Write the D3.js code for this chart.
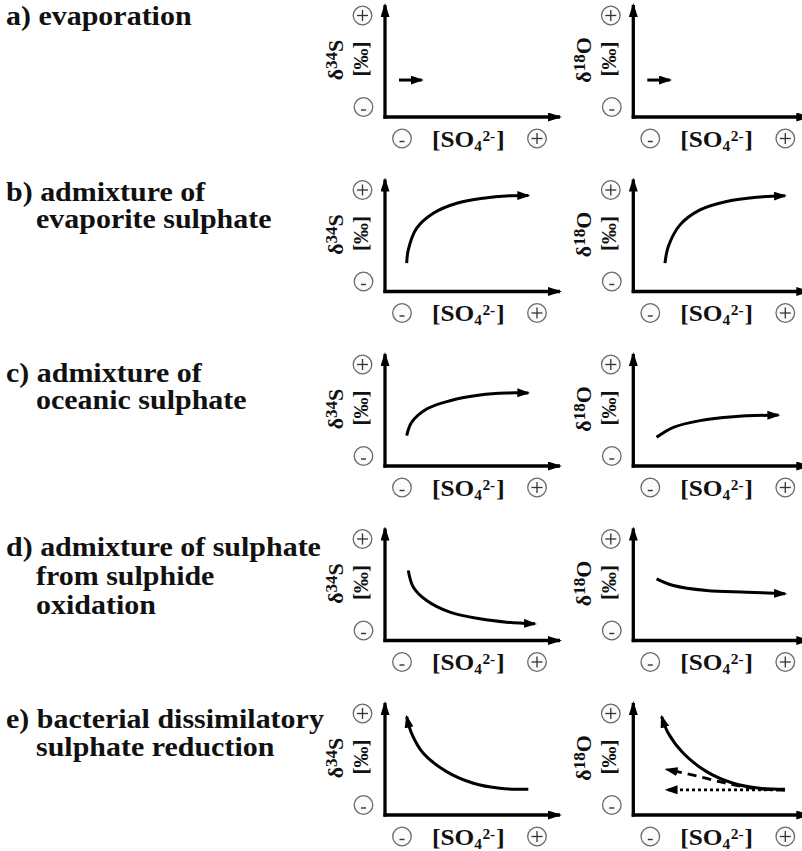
<!DOCTYPE html>
<html><head><meta charset="utf-8">
<script src="https://cdn.jsdelivr.net/npm/d3@7"></script>
<style>body{margin:0;background:#fff} svg{display:block}</style>
</head><body>
<svg id="chart" width="802" height="851"></svg>
<script>
// ---------- data ----------
const rowIds = ["a", "b", "c", "d", "e"];
const rowLabels = [
  ["a) evaporation"],
  ["b) admixture of", "evaporite sulphate"],
  ["c) admixture of", "oceanic sulphate"],
  ["d) admixture of sulphate", "from sulphide", "oxidation"],
  ["e) bacterial dissimilatory", "sulphate reduction"]
];
const isotopeBase = ["δ", "δ"];
const isotopeMass = ["34", "18"];
const isotopeElement = ["S", "O"];
const unitLabel = "[‰]";
const xLabelParts = ["[SO", "4", "2-", "]"];
const signLabels = ["+", "-"];

// normalized [SO4 2-] (0..1) vs. delta (0..1); the last point carries the arrow
const evapS = [[0.08, 0.33], [0.21, 0.33]];
const evapO = [[0.08, 0.33], [0.21, 0.33]];
const evaporiteS = [[0.124, 0.253], [0.133, 0.372], [0.181, 0.565], [0.276, 0.699], [0.41, 0.788], [0.562, 0.833], [0.714, 0.854], [0.819, 0.857]];
const evaporiteO = [[0.181, 0.253], [0.2, 0.402], [0.267, 0.595], [0.381, 0.729], [0.533, 0.804], [0.705, 0.842], [0.867, 0.854]];
const oceanicS = [[0.124, 0.271], [0.152, 0.39], [0.238, 0.509], [0.371, 0.583], [0.543, 0.634], [0.695, 0.652], [0.819, 0.652]];
const oceanicO = [[0.133, 0.256], [0.229, 0.345], [0.381, 0.405], [0.571, 0.44], [0.829, 0.455]];
const oxidationS = [[0.133, 0.625], [0.162, 0.476], [0.238, 0.357], [0.371, 0.253], [0.543, 0.194], [0.695, 0.164], [0.857, 0.149]];
const oxidationO = [[0.133, 0.551], [0.229, 0.491], [0.419, 0.446], [0.648, 0.431], [0.867, 0.417]];
const reductionS = [[0.819, 0.229], [0.657, 0.238], [0.505, 0.283], [0.352, 0.387], [0.219, 0.551], [0.152, 0.729], [0.124, 0.878]];
const reductionO = [[0.867, 0.229], [0.724, 0.238], [0.571, 0.283], [0.419, 0.387], [0.286, 0.551], [0.2, 0.729], [0.162, 0.878]];
const reductionODashed = [[0.867, 0.223], [0.686, 0.238], [0.533, 0.283], [0.362, 0.348], [0.19, 0.408]];
const reductionODotted = [[0.867, 0.225], [0.19, 0.225]];

const curvesS = [[evapS], [evaporiteS], [oceanicS], [oxidationS], [reductionS]];
const curvesO = [[evapO], [evaporiteO], [oceanicO], [oxidationO], [reductionO, reductionODashed, reductionODotted]];
const curveStyles = ["solid", "dashed", "dotted"];

// ---------- layout ----------
const svg = d3.select("#chart");
const FONT = "'Liberation Serif','Times New Roman',serif";
const panelX = [385, 633.3];
const rowY0 = 117, rowStep = 174.5;
const axisW = 175, axisH = 112;
const labelTop = [-92, -90.5, -84.5, -84.5, -87];
const labelGap = [28, 27, 27.5, 29, 28];

const defs = svg.append("defs");
defs.append("marker")
  .attr("id", "arr").attr("markerUnits", "userSpaceOnUse")
  .attr("viewBox", "0 0 13 9").attr("markerWidth", 13).attr("markerHeight", 9)
  .attr("refX", 11).attr("refY", 4.5).attr("orient", "auto")
  .append("path").attr("d", "M0,0 L13,4.5 L0,9 Z").attr("fill", "#000");
defs.append("marker")
  .attr("id", "arrAxis").attr("markerUnits", "userSpaceOnUse")
  .attr("viewBox", "0 0 14 9").attr("markerWidth", 14).attr("markerHeight", 9)
  .attr("refX", 12).attr("refY", 4.5).attr("orient", "auto")
  .append("path").attr("d", "M0,0 L14,4.5 L0,9 Z").attr("fill", "#000");

function signCircle(g, cx, cy, sign) {
  g.append("circle").attr("cx", cx).attr("cy", cy).attr("r", 9.3)
    .attr("fill", "#fbfbfb").attr("stroke", "#6a6a6a").attr("stroke-width", 1.3);
  if (sign === "+") {
    g.append("line").attr("x1", cx - 5.5).attr("x2", cx + 5.5).attr("y1", cy).attr("y2", cy)
      .attr("stroke", "#333").attr("stroke-width", 1.3);
    g.append("line").attr("x1", cx).attr("x2", cx).attr("y1", cy - 5.5).attr("y2", cy + 5.5)
      .attr("stroke", "#333").attr("stroke-width", 1.3);
  } else {
    g.append("line").attr("x1", cx - 2.5).attr("x2", cx + 2.5).attr("y1", cy + 3).attr("y2", cy + 3)
      .attr("stroke", "#333").attr("stroke-width", 1.4);
  }
}

rowIds.forEach((id, r) => {
  const Ay = rowY0 + r * rowStep;

  // row label
  const lab = svg.append("g").attr("class", "row-label");
  rowLabels[r].forEach((line, k) => {
    lab.append("g").attr("transform", `translate(${k === 0 ? 6 : 36},${Ay + labelTop[r] + k * labelGap[r]}) scale(1.11,1)`)
      .append("text").attr("x", 0).attr("y", 0)
      .attr("font-family", FONT).attr("font-weight", "bold").attr("font-size", 27)
      .attr("fill", "#111").text(line);
  });

  [0, 1].forEach(p => {
    const Ax = panelX[p];
    const x = d3.scaleLinear().domain([0, 1]).range([Ax, Ax + axisW]);
    const y = d3.scaleLinear().domain([0, 1]).range([Ay, Ay - axisH]);
    const g = svg.append("g").attr("class", `panel-${id}-${p}`);

    // axes
    g.append("line").attr("x1", x(0)).attr("y1", y(0) + 1.6).attr("x2", x(0)).attr("y2", y(1))
      .attr("stroke", "#000").attr("stroke-width", 3.3).attr("marker-end", "url(#arrAxis)");
    g.append("line").attr("x1", x(0) - 1.6).attr("y1", y(0)).attr("x2", x(1)).attr("y2", y(0))
      .attr("stroke", "#000").attr("stroke-width", 3.3).attr("marker-end", "url(#arrAxis)");

    // sign circles
    signCircle(g, Ax - 22.5, Ay - 101.5, signLabels[0]);
    signCircle(g, Ax - 21.5, Ay - 10, signLabels[1]);
    signCircle(g, Ax + 17, Ay + 21.5, signLabels[1]);
    signCircle(g, Ax + 152, Ay + 21.5, signLabels[0]);

    // x label [SO4 2-]
    const xl = g.append("g").attr("transform", `translate(${Ax + 47},${Ay + 29.5}) scale(1.1,1)`)
      .append("text").attr("font-family", FONT).attr("font-weight", "bold").attr("font-size", 23).attr("fill", "#111");
    xl.append("tspan").text(xLabelParts[0]);
    xl.append("tspan").attr("font-size", 14).attr("dy", 4).text(xLabelParts[1]);
    xl.append("tspan").attr("font-size", 14).attr("dx", 0.5).attr("dy", -10).text(xLabelParts[2]);
    xl.append("tspan").attr("dy", 6).attr("dx", 1).text(xLabelParts[3]);

    // y label δ34S / δ18O
    const yl = g.append("text").attr("transform", `translate(${Ax - 42},${Ay - 57}) rotate(-90)`)
      .attr("text-anchor", "middle").attr("font-family", FONT).attr("font-weight", "bold")
      .attr("font-size", 22).attr("fill", "#111");
    yl.append("tspan").text(isotopeBase[p]);
    yl.append("tspan").attr("font-size", 17).attr("dy", -6).text(isotopeMass[p]);
    yl.append("tspan").attr("dy", 6).text(isotopeElement[p]);

    g.append("text").attr("transform", `translate(${Ax - 17.5},${Ay - 58}) rotate(-90)`)
      .attr("text-anchor", "middle").attr("font-family", FONT).attr("font-weight", "bold")
      .attr("font-size", 21).attr("fill", "#111").text(unitLabel);

    // curves
    const line = d3.line().x(d => x(d[0])).y(d => y(d[1])).curve(d3.curveCatmullRom.alpha(0.5));
    const set = p === 0 ? curvesS[r] : curvesO[r];
    set.forEach((c, k) => {
      const style = curveStyles[k];
      g.append("path").attr("d", line(c)).attr("fill", "none").attr("stroke", "#000")
        .attr("stroke-width", style === "solid" ? 3 : 2.8)
        .attr("stroke-dasharray", style === "dashed" ? "9,6" : style === "dotted" ? "3,3" : null)
        .attr("marker-end", "url(#arr)");
    });
  });
});
</script>
</body></html>
